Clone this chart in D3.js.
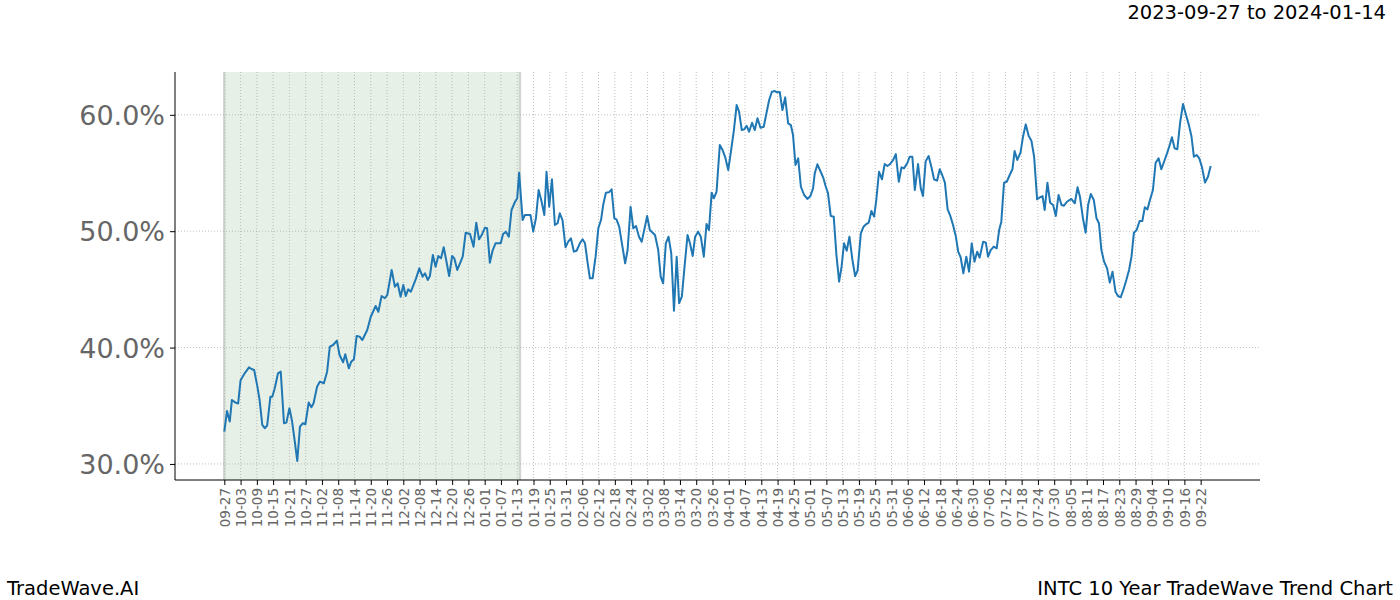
<!DOCTYPE html>
<html><head><meta charset="utf-8">
<script src="https://cdn.jsdelivr.net/npm/d3@7"></script>
<style>body{margin:0;background:#fff}svg{display:block;font-family:"DejaVu Sans",sans-serif}</style>
</head><body><svg id="c" width="1400" height="600"></svg>
<script>
// day offsets from 2023-09-27
const dayOffsets = [0,1.0,2.0,2.8,4.1,5.1,6.0,7.5,9.1,10.0,11.0,12.2,13.0,14.0,14.9,15.8,17.0,17.7,18.6,19.8,20.8,22.0,22.9,24.0,24.9,25.9,26.9,27.9,29.0,29.9,31.1,32.1,32.9,34.2,35.2,36.7,37.9,38.9,40.1,41.5,42.5,43.8,44.6,45.9,46.8,47.8,48.8,49.9,
50.9,52.7,54.0,55.8,56.8,58.0,59.2,60.1,61.7,62.9,63.9,65.0,66.0,66.9,67.8,68.8,70.7,71.9,73.1,74.0,75.0,75.8,76.9,77.9,78.9,79.9,80.9,81.8,82.9,84.0,84.8,85.9,86.9,87.9,89.0,90.6,91.9,92.9,93.9,94.9,96.1,96.9,97.9,98.9,100.0,
101.9,102.8,103.8,104.9,105.9,107.2,108.0,108.7,110.0,110.8,112.9,113.9,114.9,115.9,117.0,118.0,118.8,119.8,120.8,121.9,122.9,123.7,124.7,125.8,126.8,127.8,128.9,129.9,131.1,132.1,133.0,133.9,134.8,135.8,136.9,137.9,138.9,139.7,140.7,141.8,142.8,143.8,144.6,145.6,146.8,147.8,148.7,149.8,150.8,151.8,152.9,153.9,
155.1,155.9,156.9,158.8,160.0,160.9,161.8,162.8,163.8,164.8,165.8,166.8,167.7,168.7,169.7,170.8,171.7,172.7,173.6,174.7,175.7,176.8,177.8,178.7,179.7,180.5,181.5,182.7,183.7,184.7,185.8,186.8,187.9,188.9,189.8,190.8,191.7,192.6,193.5,194.6,195.6,196.6,197.7,198.9,199.9,200.9,201.9,203.0,203.8,204.8,205.8,206.8,207.9,
208.9,209.7,210.6,211.6,212.6,213.8,215.0,216.1,217.1,217.7,218.7,219.6,220.8,221.7,222.6,223.6,224.7,225.7,226.7,227.6,228.5,229.5,230.5,231.6,232.6,233.5,234.7,235.7,236.6,237.6,238.6,239.6,240.4,241.4,242.5,243.5,244.5,245.5,246.6,247.6,248.7,249.7,250.6,251.9,252.7,253.7,254.6,255.8,256.8,257.6,
258.6,259.7,260.7,261.7,262.8,263.8,264.7,265.7,266.7,267.7,268.7,269.7,270.6,271.5,272.5,273.6,274.6,275.6,276.6,277.6,278.5,279.8,280.8,281.6,282.6,283.7,284.8,285.7,286.5,287.5,288.5,289.6,290.6,291.4,292.4,293.6,294.5,295.5,296.6,297.6,298.6,299.7,300.7,301.7,302.5,303.5,304.5,305.6,306.6,307.6,308.7,309.6,310.7,
312.3,313.6,314.6,315.5,316.6,317.6,318.5,319.5,320.6,321.6,322.5,323.4,324.4,325.5,326.5,327.5,328.6,329.5,330.5,331.5,332.6,333.6,334.5,335.4,336.4,337.5,338.5,339.4,340.4,341.3,342.4,343.4,344.5,345.5,346.5,347.6,348.6,349.4,350.4,351.4,352.4,353.5,354.5,355.6,356.6,357.5,358.5,359.5,360.5,361.6,362.7,363.7];
const trendValues = [32.78,34.55,33.64,35.5,35.27,35.2,37.2,37.79,38.3,38.16,38.07,36.64,35.5,33.35,33.07,33.3,35.78,35.78,36.5,37.79,37.93,33.5,33.55,34.78,33.78,32.06,30.26,33.2,33.5,33.41,35.27,34.87,35.21,36.64,37.07,36.93,37.93,40.08,40.22,40.6,39.36,38.74,39.42,38.22,38.79,39.0,41.0,40.94,
40.65,41.51,42.65,43.57,43.08,44.43,44.24,44.52,46.67,45.23,45.52,44.37,45.38,44.43,45.0,44.8,45.95,46.81,46.09,46.38,45.81,46.15,47.96,46.95,47.87,47.67,48.62,47.53,46.15,47.87,47.67,46.67,47.24,47.81,49.87,49.76,48.67,50.73,49.3,49.67,50.3,50.25,47.29,48.32,48.96,
48.96,49.76,49.96,49.53,51.82,52.53,52.83,55.03,50.96,51.39,51.39,49.96,51.11,53.54,52.53,51.39,55.11,52.1,54.46,50.53,50.68,51.54,50.96,48.62,49.1,49.39,48.24,48.32,48.96,49.3,48.96,47.38,45.95,45.95,47.81,50.25,50.96,52.25,53.31,53.34,53.6,51.11,51.02,50.39,48.67,47.24,48.38,52.1,50.25,50.45,49.53,49.1,
50.39,51.31,50.1,49.67,48.38,46.09,45.52,48.96,49.53,48.1,43.17,47.81,43.81,44.37,46.95,49.67,48.96,47.87,49.53,49.96,49.53,47.81,50.62,50.1,53.31,52.83,53.39,57.41,56.98,56.35,55.26,56.83,58.69,60.84,60.27,58.69,58.75,59.06,58.55,59.32,58.69,59.7,58.89,58.98,60.13,61.27,61.98,62.04,61.93,61.96,60.41,61.5,59.27,
59.12,58.26,55.69,56.26,53.82,53.11,52.77,53.02,53.69,54.97,55.75,55.26,54.63,53.88,53.26,51.31,51.25,47.96,45.66,46.95,48.96,48.32,49.53,47.53,46.15,46.61,49.82,50.39,50.59,50.73,51.74,51.25,52.68,55.11,54.46,55.77,55.6,55.77,56.12,56.63,54.25,55.49,55.4,55.88,56.4,56.4,53.54,55.77,53.69,53.02,
56.0,56.46,55.54,54.46,54.34,55.32,54.83,54.17,51.88,51.31,50.53,49.59,48.24,47.76,46.38,47.81,46.52,48.96,47.38,48.24,47.73,49.1,49.01,47.81,48.38,48.67,48.53,50.1,50.82,54.17,54.25,54.83,55.32,56.89,56.12,56.78,58.12,59.18,58.18,57.78,56.4,52.74,52.91,53.02,51.82,54.17,52.45,52.25,51.31,53.11,52.25,52.19,52.53,
52.77,52.4,53.77,52.96,51.11,49.87,52.25,53.2,52.68,51.11,50.68,48.38,47.38,46.81,45.58,46.52,44.8,44.43,44.32,44.95,45.81,46.67,47.81,49.87,50.1,50.88,50.88,52.05,51.88,52.68,53.54,55.88,56.26,55.32,55.97,56.69,57.41,58.07,57.12,57.04,59.27,60.93,60.07,59.18,58.18,56.4,56.55,56.26,55.49,54.17,54.68,55.6];
const tickLabels = ["09-27","10-03","10-09","10-15","10-21","10-27","11-02","11-08","11-14","11-20","11-26","12-02","12-08","12-14","12-20","12-26","01-01","01-07","01-13","01-19","01-25","01-31","02-06","02-12","02-18","02-24","03-02","03-08","03-14","03-20","03-26","04-01","04-07","04-13","04-19","04-25","05-01","05-07","05-13","05-19","05-25","05-31","06-06","06-12","06-18","06-24","06-30","07-06","07-12","07-18","07-24","07-30","08-05","08-11","08-17","08-23","08-29","09-04","09-10","09-16","09-22"];
const tickStepDays = 6;
const yTicks = [30, 40, 50, 60];
const shadeRange = [0, 109];
const titleText = "2023-09-27 to 2024-01-14";
const footerLeft = "TradeWave.AI";
const footerRight = "INTC 10 Year TradeWave Trend Chart";

const svg = d3.select("#c");
const L = 175, R = 1260, T = 72, B = 480;
const dMax = d3.max(dayOffsets), pad = 0.05 * dMax;
const x = d3.scaleLinear().domain([-pad, dMax + pad]).range([L, R]);
const y = d3.scaleLinear().domain([28.62, 63.68]).range([B, T]);

// shaded region
svg.append("rect").attr("x", x(shadeRange[0])).attr("y", T)
  .attr("width", x(shadeRange[1]) - x(shadeRange[0])).attr("height", B - T)
  .attr("fill", "#e6f0e6");
shadeRange.forEach(d => svg.append("line").attr("x1", x(d)).attr("x2", x(d)).attr("y1", T).attr("y2", B)
  .attr("stroke", "#cfd6cf").attr("stroke-width", 2.5));

const tickVals = tickLabels.map((_, i) => i * tickStepDays);
// grid
svg.append("g").selectAll("line").data(tickVals).join("line")
  .attr("x1", d => x(d)).attr("x2", d => x(d)).attr("y1", T).attr("y2", B)
  .attr("stroke", "#b0b0b0").attr("stroke-width", 0.8).attr("stroke-dasharray", "1,2");
svg.append("g").selectAll("line").data(yTicks).join("line")
  .attr("x1", L).attr("x2", R).attr("y1", d => y(d)).attr("y2", d => y(d))
  .attr("stroke", "#b0b0b0").attr("stroke-width", 0.8).attr("stroke-dasharray", "1,2");

// line
const line = d3.line().x((d, i) => x(dayOffsets[i])).y(d => y(d));
svg.append("path").datum(trendValues).attr("d", line).attr("fill", "none")
  .attr("stroke", "#1f77b4").attr("stroke-width", 2).attr("stroke-linejoin", "round");

// axes
const xa = svg.append("g").attr("transform", `translate(0,${B})`)
  .call(d3.axisBottom(x).tickValues(tickVals).tickFormat((d, i) => tickLabels[i]).tickSizeOuter(0).tickSize(5));
xa.select(".domain").remove();
xa.selectAll(".tick line").attr("stroke", "#000");
xa.selectAll("text").attr("transform", "rotate(-90)").attr("text-anchor", "end")
  .attr("x", -8).attr("y", 0).attr("dy", "0.35em").attr("fill", "#666").style("font-size", "13.5px").style("font-family", "DejaVu Sans");
const ya = svg.append("g").attr("transform", `translate(${L},0)`)
  .call(d3.axisLeft(y).tickValues(yTicks).tickFormat(d => d.toFixed(1) + "%").tickSizeOuter(0).tickSize(5));
ya.select(".domain").remove();
ya.selectAll(".tick line").attr("stroke", "#000");
ya.selectAll("text").attr("x", -10).attr("dy", "0.36em").attr("fill", "#666").style("font-size", "27px").style("font-family", "DejaVu Sans");
svg.append("line").attr("x1", L).attr("x2", L).attr("y1", T).attr("y2", B).attr("stroke", "#000").attr("stroke-width", 1);
svg.append("line").attr("x1", L).attr("x2", R).attr("y1", B).attr("y2", B).attr("stroke", "#000").attr("stroke-width", 1);

svg.append("text").attr("x", 1386).attr("y", 19).attr("text-anchor", "end").style("font-size", "19.5px").text(titleText);
svg.append("text").attr("x", 7).attr("y", 595).style("font-size", "19.5px").text(footerLeft);
svg.append("text").attr("x", 1393).attr("y", 595).attr("text-anchor", "end").style("font-size", "19.5px").text(footerRight);
</script></body></html>
